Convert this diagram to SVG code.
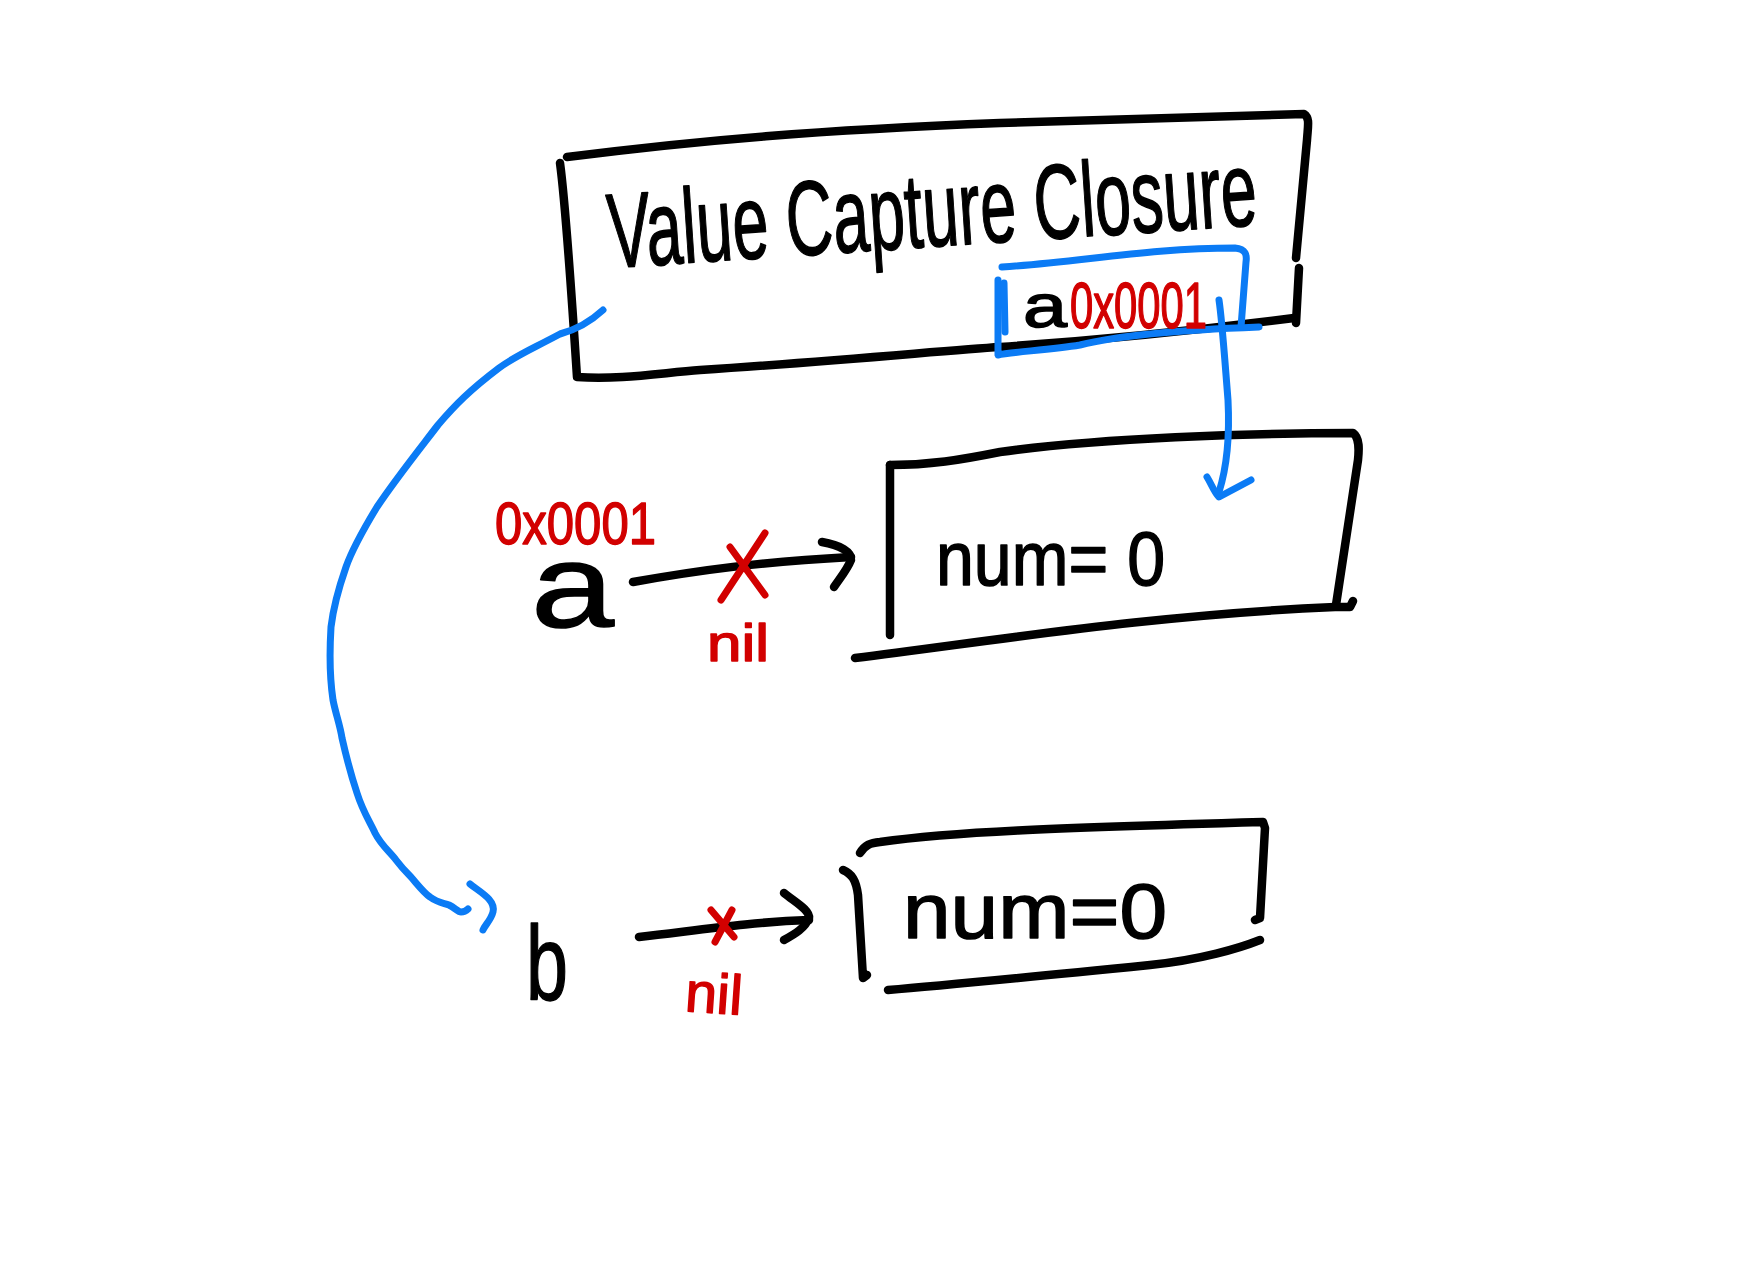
<svg xmlns="http://www.w3.org/2000/svg" width="1760" height="1274" viewBox="0 0 1760 1274">
<style>
.k{fill:none;stroke:#000;stroke-width:8.5;stroke-linecap:round;stroke-linejoin:round}
.bl{fill:none;stroke:#0b7bf5;stroke-width:7;stroke-linecap:round;stroke-linejoin:round}
.rd{fill:none;stroke:#d20000;stroke-width:7;stroke-linecap:round;stroke-linejoin:round}
.t{font-family:"Liberation Sans",Arial,sans-serif;stroke-width:1.5;stroke-linejoin:round}
.tk{fill:#000;stroke:#000}
.tr{fill:#d20000;stroke:#d20000}
</style>
<rect width="1760" height="1274" fill="#fff"/>
<g id="node-closure">
  <path class="k" d="M567,157 C700,140 820,130 1000,123 C1150,118 1250,116 1304,114 C1310,118 1308,125 1307,140 L1296,258"/>
  <path class="k" d="M1299,268 L1296,323"/>
  <path class="k" d="M560,163 C565,200 572,300 577,377 C620,380 660,373 700,370 C850,360 950,350 1000,347 C1100,340 1200,330 1294,318"/>
  <text class="t tk" x="610" y="268" font-size="106" textLength="650" lengthAdjust="spacingAndGlyphs" transform="rotate(-3.8 610 268)">Value Capture Closure</text>
  <g id="node-captured-a">
    <path class="bl" d="M1002,267 C1080,262 1150,248 1235,248 C1246,249 1247,255 1246,262 L1241,327"/>
    <path class="bl" d="M1259,327 C1180,330 1120,335 1080,345 C1050,350 1010,352 998,355 L998,280"/>
    <path class="bl" d="M1004,283 L1005,332" stroke-width="9"/>
    <text class="t tk" x="1023" y="327" font-size="62" textLength="44" lengthAdjust="spacingAndGlyphs">a</text>
    <text class="t tr" x="1070" y="328" font-size="64" textLength="137" lengthAdjust="spacingAndGlyphs">0x0001</text>
  </g>
</g>
<g id="node-obj1">
  <path class="k" d="M890,465 C930,465 960,460 1000,452 C1100,438 1250,433 1353,433 C1360,438 1359,450 1358,460 L1336,605"/>
  <path class="k" d="M890,465 L890,635"/>
  <path class="k" d="M855,658 C1000,640 1150,615 1335,607 L1350,607 L1353,601"/>
  <text class="t tk" x="936" y="585" font-size="76" textLength="229" lengthAdjust="spacingAndGlyphs">num= 0</text>
</g>
<g id="node-obj2">
  <path class="k" d="M860,853 C865,845 870,843 880,842 C950,832 1050,828 1263,822 L1265,828 L1260,918 L1255,920"/>
  <path class="k" d="M888,990 C950,985 1050,975 1150,965 C1200,960 1240,948 1260,940"/>
  <path class="k" d="M843,870 C852,874 856,880 858,895 L863,978 L867,975"/>
  <text class="t tk" x="903" y="938" font-size="78" textLength="264" lengthAdjust="spacingAndGlyphs">num=0</text>
</g>
<g id="node-a">
  <text class="t tr" x="495" y="544" font-size="60" textLength="161" lengthAdjust="spacingAndGlyphs">0x0001</text>
  <text class="t tk" x="531" y="627" font-size="118" textLength="83" lengthAdjust="spacingAndGlyphs">a</text>
</g>
<g id="node-b">
  <text class="t tk" x="526" y="1000" font-size="105" textLength="42" lengthAdjust="spacingAndGlyphs">b</text>
</g>
<g id="connectors">
  <path class="k" d="M633,582 C700,570 760,562 851,557"/>
  <path class="k" d="M822,542 C840,545 852,552 851,560 C847,570 840,578 834,587"/>
  <path class="rd" d="M730,547 L765,595 M765,533 L721,600"/>
  <text class="t tr" x="707" y="661" font-size="52" textLength="62" lengthAdjust="spacingAndGlyphs">nil</text>
  <path class="k" d="M639,937 C700,930 750,922 809,920"/>
  <path class="k" d="M784,893 C795,902 810,910 809,918 C805,928 795,934 784,940"/>
  <path class="rd" d="M711,910 L734,937 M732,910 L715,942"/>
  <text class="t tr" x="685" y="1013" font-size="56" textLength="57" lengthAdjust="spacingAndGlyphs" transform="rotate(4 713 1000)">nil</text>
  <path class="bl" d="M603,310 C590,322 575,330 560,334 C530,350 515,356 499,368 C470,390 455,405 438,425 C415,455 395,480 377,507 C360,535 352,550 346,567 C338,590 333,610 331,627 C329,660 330,680 333,700 C336,715 340,725 342,738 C347,760 352,778 357,793 C363,812 370,822 375,833 C381,845 390,852 396,860 C402,868 406,872 411,877 C418,885 424,893 430,897 C438,903 444,903 449,905 C455,908 458,912 461,912 C464,912 466,911 468,909"/>
  <path class="bl" d="M470,884 C480,892 496,900 493,912 C491,920 485,925 483,930"/>
  <path class="bl" d="M1219,300 C1222,320 1224,350 1228,400 C1230,440 1226,470 1219,492"/>
  <path class="bl" d="M1207,477 C1212,485 1214,492 1219,497 L1251,480"/>
</g>
</svg>
